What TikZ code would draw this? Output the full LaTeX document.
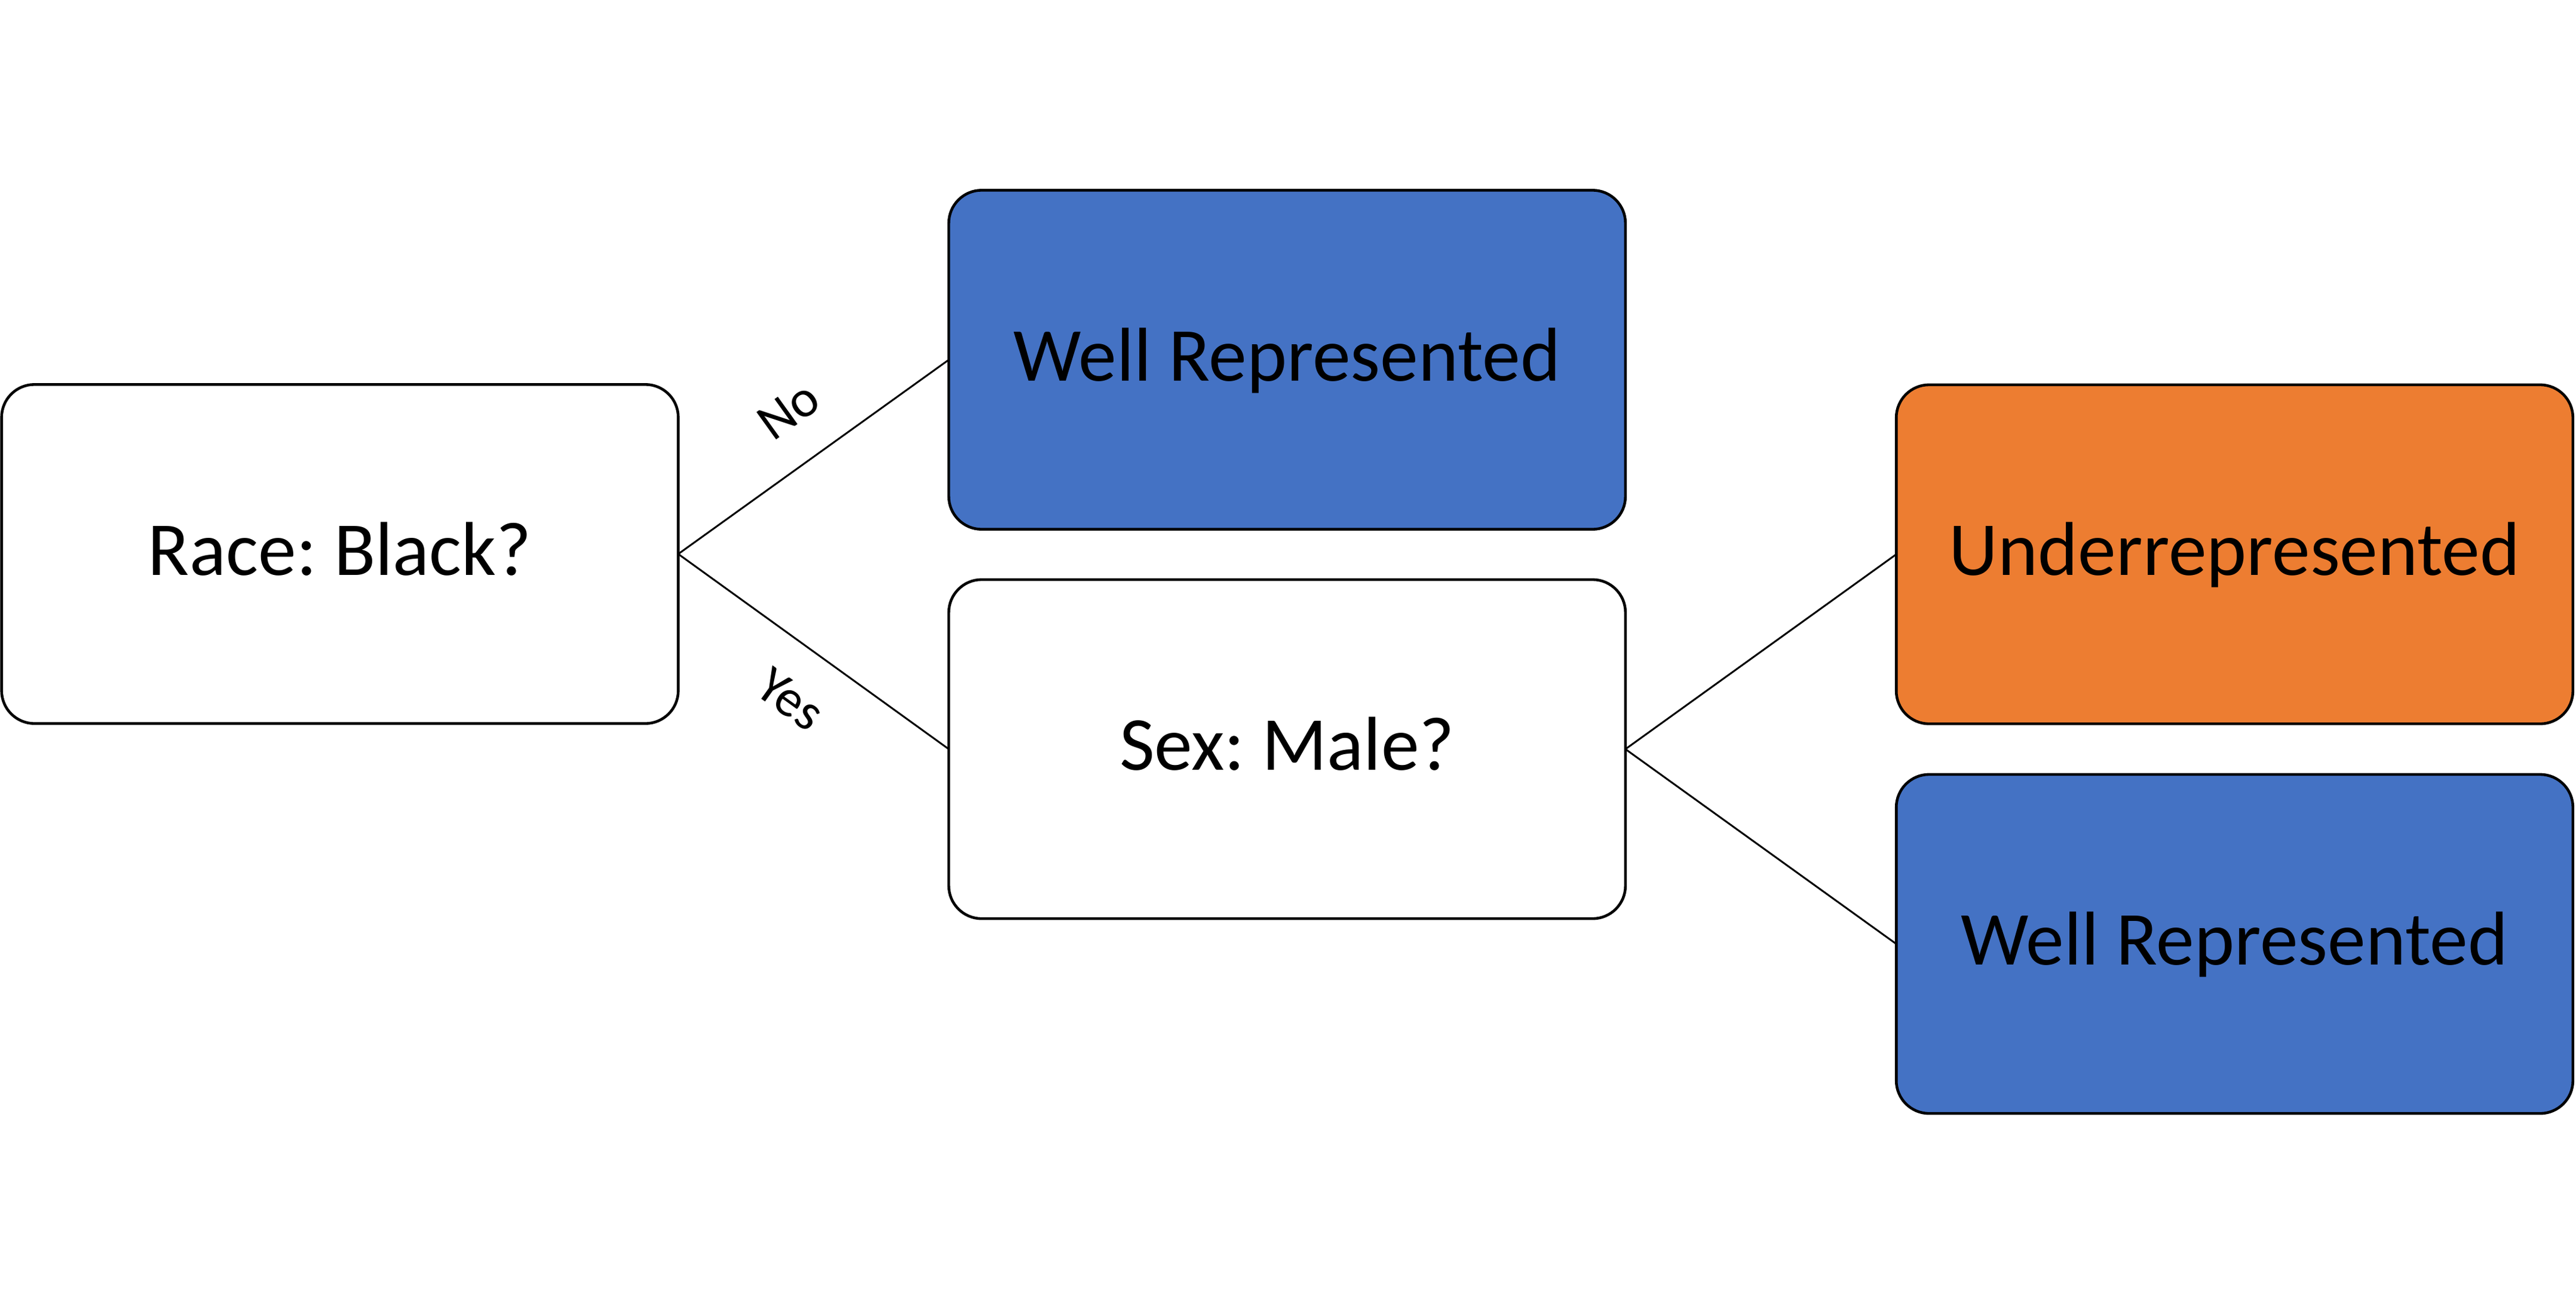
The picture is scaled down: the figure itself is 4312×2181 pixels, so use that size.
\documentclass[tikz,border=0pt]{standalone}
\usepackage{fontspec}
\setmainfont{Carlito}
\frenchspacing
\definecolor{boxblue}{HTML}{4472C4}
\definecolor{boxorange}{HTML}{ED7D31}
\begin{document}
\begin{tikzpicture}[x=0.01cm,y=-0.01cm,
  box/.style={draw=black, line width=1.3pt, rounded corners=0.55cm,
    minimum width=11.32cm, minimum height=5.67cm, inner sep=0pt, outer sep=0pt,
    text height=0.7cm, text depth=0cm, align=center,
    font=\fontsize{36.3}{43}\selectfont},
  link/.style={draw=black, line width=0.85pt},
  lbl/.style={font=\fontsize{25}{30}\selectfont, inner sep=0pt}]
\useasboundingbox (0,0) rectangle (4312,2181);
\node[box, fill=white] (race) at (569,927) {Race: Black?};
\node[box, fill=boxblue] (wr1) at (2154.5,602) {Well Represented};
\node[box, fill=white] (sex) at (2154.5,1253.5) {Sex: Male?};
\node[box, fill=boxorange] (under) at (3740.5,927.5) {Underrepresented};
\node[box, fill=boxblue] (wr2) at (3740.5,1579.5) {Well Represented};
\draw[link] (race.east) -- (wr1.west);
\draw[link] (race.east) -- (sex.west);
\draw[link] (sex.east) -- (under.west);
\draw[link] (sex.east) -- (wr2.west);
\node[lbl, rotate=35.7] (no) at (1320,687) {No};
\node[lbl, rotate=-35.7] (yes) at (1323,1170) {Yes};
\end{tikzpicture}
\end{document}
